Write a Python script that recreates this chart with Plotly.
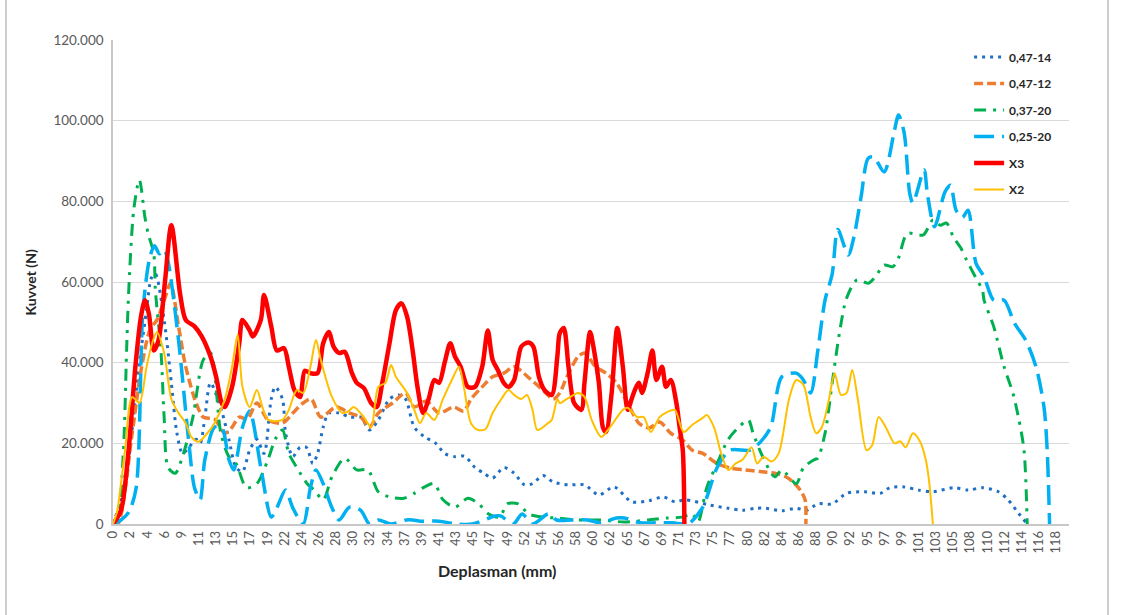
import plotly.graph_objects as go

# ---------------- data (x = displacement in mm, y = force) ----------------
tick_labels = ["0", "2", "4", "6", "9", "11", "13", "15", "17", "19", "22", "24", "26", "28",
               "30", "32", "34", "37", "39", "41", "43", "45", "47", "49", "52", "54", "56",
               "58", "60", "62", "65", "67", "69", "71", "73", "75", "77", "80", "82", "84",
               "86", "88", "90", "92", "95", "97", "99", "101", "103", "105", "108", "110",
               "112", "114", "116", "118"]
x_max_label = 118.0

s1_name = "0,47-14"
s1_x = [0, 1, 1.95, 2.8, 3.5, 4.2, 4.8, 5.3, 6.4, 7.3,
        8, 8.7, 9.5, 10.4, 10.9, 11.5, 12.2, 13.6, 14.5, 15.4,
        16.2, 17.1, 18, 18.9, 19.8, 20.3, 21.2, 21.6, 22.5, 23.4,
        24.2, 25, 25.6, 26.3, 27, 28.3, 29.7, 31, 32.1, 33.2,
        34.6, 35.7, 36.6, 37.7, 39, 40.4, 41.5, 42.8, 44, 45.3,
        46.4, 47.5, 48.9, 50.2, 51.5, 52.5, 53.8, 55.1, 57, 59,
        60.8, 62.7, 64.9, 67.1, 68.9, 70.3, 71.6, 74.7, 77, 78.8,
        80.4, 81.7, 83.7, 85.5, 86.8, 88.2, 90, 91.8, 94, 96,
        97.2, 99, 100.8, 102.6, 105.2, 107, 108.8, 110.8, 112, 113.3,
        114.2]
s1_y = [0, 6, 16, 31, 43, 53, 61, 62, 50.6, 35,
        22.5, 17.5, 19, 21, 20, 26.5, 35, 28, 21, 14,
        13, 18.3, 21, 17.5, 31, 34, 31, 22.5, 16.7, 19,
        19, 15, 17.5, 24, 27.5, 27.5, 26.5, 26.5, 23.3, 25.8,
        31, 32, 31, 24, 21.6, 20, 17.5, 16.7, 16.8, 14,
        12.6, 11.4, 14, 12.6, 9.7, 10, 12, 10.4, 9.7, 9.7,
        7.2, 9.2, 5.5, 5.8, 6.7, 5.5, 6, 4.7, 3.9, 3.4,
        3.9, 3.9, 3.3, 3.9, 3.4, 5, 5, 7.6, 8, 7.6,
        9, 9.2, 8.4, 8, 9, 8.4, 9, 8, 6, 2.7,
        0.5]

s2_name = "0,47-12"
s2_x = [0, 0.6, 2.4, 3.5, 4.6, 5.5, 6.5, 7.2, 8.2, 9.1,
        10.4, 11.3, 12.7, 14, 14.9, 15.8, 16.8, 18, 19.4, 21.2,
        22.5, 23.8, 24.8, 26, 27.9, 29.6, 31, 32.1, 33.2, 35,
        36.6, 37.7, 39.2, 40.8, 42.6, 43.9, 44.8, 46.2, 47.5, 48.9,
        50.2, 51.9, 53.8, 55.1, 55.9, 56.8, 58.2, 59, 60.4, 61.7,
        63, 64.4, 65.8, 67.1, 68.4, 69.8, 71.2, 72.5, 73.8, 75.6,
        77.4, 79.2, 81, 82.8, 84.2, 85.1, 86, 86.6, 86.7]
s2_y = [0, 0, 22.5, 38, 48, 50.6, 56, 59.7, 49, 39,
        30, 26.5, 26, 22.5, 24, 26.5, 26, 30, 25.8, 25,
        27.5, 30, 31, 26.5, 29, 27.5, 26.5, 24, 27.5, 30,
        32.5, 29, 30.5, 27.5, 29, 28, 31, 34, 36.5, 37.4,
        39, 36.5, 33.2, 31, 32.5, 36.5, 41.5, 42.4, 39, 37.4,
        35, 30, 25, 23.8, 25.3, 22.5, 21, 18.3, 17.5, 15,
        13.8, 13.4, 13, 12.6, 11.7, 10.4, 8.4, 6, 0]

s3_name = "0,37-20"
s3_x = [0, 0.6, 1.3, 1.7, 1.95, 2.6, 3.3, 4, 4.4, 5.1,
        5.3, 6, 6.4, 6.9, 7.8, 8.7, 10, 11.3, 12.2, 13.5,
        14.5, 15.4, 16.7, 18, 19.4, 20.3, 21.2, 22, 23, 24.3,
        25.2, 26.3, 27.4, 29, 30.5, 31.9, 33.2, 34.6, 36.4, 37.7,
        39, 40.2, 41.3, 42.8, 44.4, 45.7, 47, 48.4, 49.3, 50.7,
        52, 53.8, 55.5, 58, 61, 64, 67, 69.4, 71.2, 72.5,
        73.2, 74.3, 75.6, 77, 78.3, 79.5, 80.1, 81.3, 82.8, 83.7,
        85.5, 86.4, 87.8, 88.2, 89.1, 90, 90.9, 91.8, 93.1, 94.5,
        95.4, 96.5, 97.6, 98.3, 99.4, 101.4, 102.6, 103.5, 104.3, 105.2,
        106.1, 106.8, 107.9, 108.8, 109, 110.2, 111.5, 112.6, 113.3, 114,
        114.4]
s3_y = [0, 1.7, 18, 43, 57, 78, 85.3, 76, 72, 67,
        58, 43, 26.5, 14, 12.6, 16.7, 26.5, 40.7, 42.4, 22.5,
        16.7, 15, 9, 10, 16, 21, 23.3, 17.5, 14, 10,
        8.4, 6, 11.7, 16.3, 13.4, 13.4, 8, 6.7, 6.4, 7.6,
        9.2, 10, 6, 4.2, 6.4, 5.1, 2.5, 1.7, 5, 5,
        2.5, 1.7, 1.5, 1, 1, 0.5, 1, 1.5, 1.7, 2.5,
        0.5, 9, 15, 21, 24, 25.8, 22.5, 16.7, 11.7, 13.4,
        10, 14, 16, 16.3, 22.5, 35, 47.3, 56, 60.5, 59.7,
        61.3, 64.2, 63.8, 66, 72, 71.7, 75.4, 74.1, 74.6, 71,
        68.4, 65.5, 61.3, 58, 55.5, 49, 39, 32.5, 26.5, 18.3,
        0]

s4_name = "0,25-20"
s4_x = [0, 1, 2, 2.9, 3.75, 4.6, 5.2, 5.8, 6.4, 6.9,
        8.2, 9.5, 10.2, 10.9, 11.5, 12.7, 13.6, 14.5, 15.1, 16.2,
        17.1, 18.5, 19.8, 20.5, 21.6, 22.5, 23.8, 24.7, 25.4, 26.3,
        27.4, 28.3, 29.6, 31, 32.1, 33.2, 34.8, 36.7, 37.5, 38.5,
        40.8, 43, 45, 47.8, 48.5, 50.1, 51.2, 52.5, 54.5, 55.5,
        57.4, 59.4, 61, 63, 64, 66, 68, 70, 71.2, 72,
        73.8, 75.6, 77.2, 79.7, 81, 82.3, 83.7, 85.5, 86.3, 87.3,
        88.2, 89.1, 90, 90.7, 92, 92.7, 93.6, 94.5, 95.2, 96.5,
        97.8, 98.3, 99, 99.7, 100.1, 101.5, 101.9, 102.8, 104.1, 104.8,
        105.5, 106.3, 107, 108, 109, 110.2, 111.5, 112.8, 114.2, 115.5,
        116.5, 116.9, 117.2]
s4_y = [0, 1, 3, 9, 53, 66, 69, 67, 68, 65,
        45.6, 20, 9, 6, 16, 24, 24, 16, 13.4, 24,
        28, 14, 1.7, 4, 8.4, 4, 0, 9, 13.4, 10,
        4, 1, 4.2, 3.4, 0, 1, 0, 1, 1, 0.7,
        0.7, 0, 0, 2, 2, 0, 2.5, 0, 2.5, 1,
        1, 1, 0.3, 1.5, 1.5, 0.3, 0.3, 0.3, 0, 0,
        4.2, 14, 18.3, 18.3, 20.3, 24, 36.5, 37.4, 36, 32.5,
        43, 55.5, 62, 73, 66.7, 71, 81, 90.7, 91, 87.3,
        97.7, 101.4, 97, 82, 79.6, 87.8, 82, 73.7, 82.3, 84,
        77.8, 76, 77.8, 64.6, 61.3, 55.5, 55.5, 49.8, 45.6, 39,
        29, 18.3, 0]

s5_name = "X3"
s5_x = [0, 1, 1.95, 2.8, 3.5, 4, 4.5, 5.1, 5.7, 6.5,
        7.3, 8.4, 9.1, 10.2, 11.1, 12.2, 12.9, 13.6, 14, 14.9,
        15.8, 16.2, 17.1, 17.5, 18.5, 18.9, 19.8, 20.5, 21.4, 22,
        22.7, 23.4, 24, 24.7, 25.6, 26.3, 27, 27.6, 28.3, 29,
        29.9, 30.5, 31.4, 32.3, 33, 33.7, 34.6, 35.4, 36.1, 36.8,
        37.5, 38.1, 38.8, 39.5, 40.2, 40.8, 41.5, 42.2, 42.8, 43.5,
        44.4, 45.3, 46.2, 46.9, 47.5, 48.2, 48.9, 49.5, 50.2, 51.1,
        52, 52.6, 53.3, 54, 54.9, 55.6, 55.9, 56.4, 57, 57.7,
        58.6, 59, 59.7, 60.2, 60.8, 61.3, 61.7, 62.4, 63.1, 63.8,
        64.4, 64.9, 65.3, 65.8, 66.2, 66.9, 67.5, 68, 68.7, 69.2,
        69.8, 70.5, 70.9, 71.3, 71.5]
s5_y = [0, 3.4, 18.3, 39, 51.4, 55.5, 52, 43, 45.6, 60,
        74.1, 57, 50.6, 49, 46.5, 41.5, 36.5, 30, 29, 34,
        44.8, 50.6, 48, 46.5, 50.6, 56.8, 49, 43, 43.6, 39,
        33.2, 31.5, 38, 37.4, 37.4, 44.8, 47.6, 44, 42.4, 42.7,
        37.4, 35, 33.7, 30, 29, 35, 44.8, 53, 54.7, 51.4,
        43, 34, 27.5, 31, 35.7, 35, 40, 44.8, 41.5, 39,
        34, 34, 39, 48, 40.7, 38, 35, 34, 35.7, 44,
        45, 44, 36.5, 33.2, 32, 41.5, 47.3, 48.6, 39, 30,
        28.3, 35, 47.6, 43, 35, 24, 22.8, 32.5, 48.6, 39,
        28.3, 31, 33.2, 35, 32.5, 37.4, 43, 35.7, 39, 34,
        35.7, 30, 24, 18.3, 0]

s6_name = "X2"
s6_x = [0, 0.5, 1.5, 2.4, 3.3, 4.2, 4.9, 5.5, 6.4, 7.3,
        8.2, 9.1, 9.8, 10.7, 11.8, 12.7, 14, 14.9, 15.6, 16.2,
        17.1, 18, 18.7, 19.4, 21.2, 22, 23, 23.8, 24.7, 25.4,
        26, 27.4, 28.7, 29.5, 30.1, 31.4, 32.3, 33.2, 34.1, 34.8,
        35.4, 36.8, 37.7, 38.4, 39.2, 40.2, 41.3, 42.4, 43.3, 43.9,
        44.8, 45.7, 46.6, 47.5, 48.6, 49.5, 50.2, 51.1, 51.8, 52.5,
        53.1, 54.3, 54.9, 55.6, 55.9, 56.8, 58.2, 59, 59.9, 61.1,
        62.2, 63.8, 64.4, 65.6, 66.4, 67.3, 68.4, 69.4, 70.3, 71.4,
        72.5, 73.8, 74.3, 75.2, 76.1, 77, 77.9, 78.8, 79.9, 80.6,
        81.4, 82.4, 83.3, 84.6, 85.5, 86.4, 87.3, 88, 88.7, 89.6,
        90.3, 91.1, 91.8, 92.5, 93.2, 94.3, 95, 95.8, 96.7, 97.8,
        98.5, 99.2, 100.1, 101, 101.7, 102.1, 102.6]
s6_y = [0, 3, 18.3, 31.5, 30, 39, 44.8, 47.6, 42.4, 31,
        27.5, 25, 21.6, 20.4, 22.5, 25, 31, 39, 47, 34,
        29, 33.2, 29, 25.8, 25.8, 28.3, 33.2, 32.5, 39, 45.6,
        40.7, 31.5, 27.5, 28, 29, 26.5, 24, 34, 35, 39.4,
        36.5, 32.5, 28.3, 25, 27.5, 25.8, 31, 35.7, 39, 34,
        25, 23.3, 23.5, 27.5, 31, 33.2, 32, 31, 32, 28.3,
        23.3, 24.8, 25.8, 31, 30, 31, 32.5, 31.5, 25.8, 21.6,
        24, 28.3, 28.8, 26.5, 26.5, 22.8, 26.5, 27.8, 28.3, 22.8,
        24.6, 26.3, 27, 24, 17.5, 13.4, 15, 16, 19, 15,
        16.7, 15.5, 17.5, 31, 35.7, 34.5, 26.5, 22.5, 24, 31,
        37.4, 32, 32.5, 38.2, 31, 18.3, 19.5, 26.5, 24, 20,
        20.5, 19, 22.5, 20.4, 16, 11, 0]

y_ticks = [0, 20, 40, 60, 80, 100, 120]
y_tick_labels = ["0", "20.000", "40.000", "60.000", "80.000", "100.000", "120.000"]

# ---------------- styles ----------------
series = [
    (s1_name, s1_x, s1_y, "#1F6FC5", 3.0, "3px,5px"),
    (s2_name, s2_x, s2_y, "#ED7D31", 3.5, "9px,4px"),
    (s3_name, s3_x, s3_y, "#00B050", 3.0, "12px,7px,3px,7px"),
    (s4_name, s4_x, s4_y, "#00B0F0", 3.5, "20px,8px"),
    (s5_name, s5_x, s5_y, "#FF0000", 4.5, "solid"),
    (s6_name, s6_x, s6_y, "#FFC000", 2.0, "solid"),
]

FONT = "Lato, Open Sans, sans-serif"
fig = go.Figure()
for i, (name, xs, ys, col, w, dash) in enumerate(series):
    assert len(xs) == len(ys), name
    fig.add_trace(go.Scatter(
        x=xs, y=ys, name=name, mode="lines", legendgroup=f"g{i}",
        line=dict(color=col, width=w, dash=dash, shape="spline", smoothing=0.8),
        hoverinfo="skip",
    ))

n_lab = len(tick_labels)
tick_vals = [k * x_max_label / (n_lab - 1) for k in range(n_lab)]

fig.update_layout(
    width=1122, height=615,
    margin=dict(l=113, r=53, t=40, b=91),
    paper_bgcolor="white", plot_bgcolor="white",
    font=dict(family=FONT, color="#595959", size=13),
    showlegend=True,
    legend=dict(x=0.8955, y=0.995, xanchor="left", yanchor="top",
                bgcolor="rgba(0,0,0,0)", tracegroupgap=7.5,
                font=dict(family=FONT, size=12, color="#262626", weight="bold")),
    xaxis=dict(range=[0, 119.63], tickmode="array", tickvals=tick_vals,
               ticktext=tick_labels, tickangle=-90, showgrid=False,
               showline=True, linecolor="#c8c8c8", linewidth=1.5, ticks="",
               zeroline=False, tickfont=dict(size=13, color="#595959")),
    yaxis=dict(range=[0, 120], tickmode="array", tickvals=y_ticks,
               ticktext=y_tick_labels, showgrid=True, gridcolor="#d9d9d9",
               gridwidth=1, showline=True, linecolor="#c8c8c8", linewidth=1.5,
               zeroline=False, ticks="", ticklabelstandoff=5,
               tickfont=dict(size=13.5, color="#595959")),
)

fig.add_annotation(text="<b>Kuvvet (N)</b>", xref="paper", yref="paper",
                   x=-0.0974, y=0.5, textangle=-90, showarrow=False,
                   font=dict(family=FONT, size=14, color="#262626"))
fig.add_annotation(text="<b>Deplasman (mm)</b>", xref="paper", yref="paper",
                   x=0.4017, y=-0.12, showarrow=False,
                   font=dict(family=FONT, size=16, color="#262626"))

# outer chart-area border
fig.add_shape(type="rect", xref="paper", yref="paper",
              x0=(6 - 113) / 956, x1=(1108 - 113) / 956, y0=-0.5, y1=1.5,
              line=dict(color="#bfbfbf", width=1.5), layer="below")

fig.write_html("out.html", config={"displayModeBar": False},
               post_script="document.body.style.margin='0';")
